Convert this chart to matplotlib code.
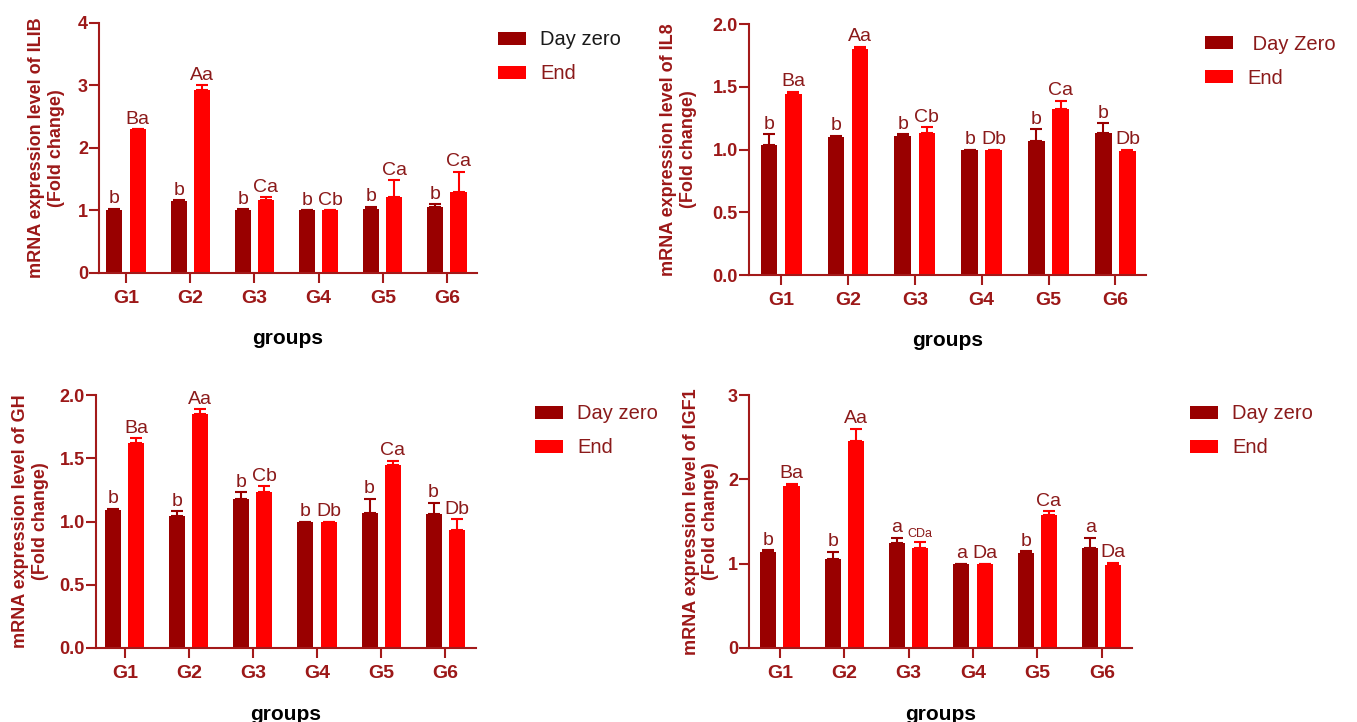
import matplotlib
matplotlib.use('agg')
import matplotlib.pyplot as plt
import numpy as np

# groups on the x axis
groups = ['G1', 'G2', 'G3', 'G4', 'G5', 'G6']

# IL1B
il1b_day0 = [1.00, 1.15, 1.00, 1.00, 1.03, 1.05]
il1b_day0_err = [0.03, 0.01, 0.02, 0.0, 0.03, 0.05]
il1b_end = [2.30, 2.93, 1.16, 1.00, 1.21, 1.29]
il1b_end_err = [0.0, 0.07, 0.05, 0.0, 0.27, 0.33]
il1b_day0_lbl = ['b', 'b', 'b', 'b', 'b', 'b']
il1b_end_lbl = ['Ba', 'Aa', 'Ca', 'Cb', 'Ca', 'Ca']

# IL8
il8_day0 = [1.04, 1.10, 1.11, 1.00, 1.07, 1.13]
il8_day0_err = [0.08, 0.01, 0.01, 0.0, 0.09, 0.08]
il8_end = [1.44, 1.80, 1.13, 1.00, 1.32, 0.99]
il8_end_err = [0.02, 0.02, 0.05, 0.0, 0.07, 0.01]
il8_day0_lbl = ['b', 'b', 'b', 'b', 'b', 'b']
il8_end_lbl = ['Ba', 'Aa', 'Cb', 'Db', 'Ca', 'Db']

# GH
gh_day0 = [1.09, 1.04, 1.18, 1.00, 1.07, 1.06]
gh_day0_err = [0.01, 0.04, 0.05, 0.0, 0.11, 0.09]
gh_end = [1.62, 1.85, 1.23, 1.00, 1.45, 0.93]
gh_end_err = [0.04, 0.04, 0.05, 0.0, 0.03, 0.09]
gh_day0_lbl = ['b', 'b', 'b', 'b', 'b', 'b']
gh_end_lbl = ['Ba', 'Aa', 'Cb', 'Db', 'Ca', 'Db']

# IGF1
igf1_day0 = [1.14, 1.06, 1.24, 1.00, 1.13, 1.18]
igf1_day0_err = [0.02, 0.08, 0.07, 0.0, 0.02, 0.13]
igf1_end = [1.92, 2.46, 1.18, 1.00, 1.58, 0.99]
igf1_end_err = [0.03, 0.14, 0.08, 0.0, 0.04, 0.02]
igf1_day0_lbl = ['b', 'b', 'a', 'a', 'b', 'a']
igf1_end_lbl = ['Ba', 'Aa', 'CDa', 'Da', 'Ca', 'Da']

DARK = '#990000'
RED = '#ff0000'
TXT = '#9c1818'
SPINE = '#a31a1a'
ANN = '#8b1a1a'

plt.rcParams['font.family'] = ['Liberation Sans', 'DejaVu Sans']


def draw_panel(fig, rect, day0, day0_err, end, end_err, lab0, lab1,
               gene, yticks, ytlabels, xlim, names, leg_pos, ylab_x, leg_colors):
    ax = fig.add_axes(rect)
    x = np.arange(len(groups))
    w = 0.25
    off = 0.18
    ax.bar(x - off, day0, w, color=DARK, label=names[0], zorder=2)
    ax.bar(x + off, end, w, color=RED, label=names[1], zorder=2)
    zeros = np.zeros(len(groups))
    ax.errorbar(x - off, day0, yerr=[zeros, day0_err], fmt='none', ecolor=DARK,
                elinewidth=1.5, capsize=4, capthick=1.5, zorder=3)
    ax.errorbar(x + off, end, yerr=[zeros, end_err], fmt='none', ecolor=RED,
                elinewidth=1.5, capsize=4, capthick=1.5, zorder=3)

    for i in range(len(groups)):
        ax.annotate(lab0[i], (x[i] - off, day0[i] + day0_err[i]), xytext=(0, 1),
                    textcoords='offset points', ha='center', va='bottom',
                    fontsize=14, color=ANN)
        fs = 9 if len(lab1[i]) > 2 else 14
        ax.annotate(lab1[i], (x[i] + off, end[i] + end_err[i]), xytext=(0, 1),
                    textcoords='offset points', ha='center', va='bottom',
                    fontsize=fs, color=ANN)

    ax.set_xlim(*xlim)
    ax.set_ylim(yticks[0], yticks[-1])
    ax.set_yticks(yticks)
    ax.set_yticklabels(ytlabels)
    ax.set_xticks(x)
    ax.set_xticklabels(groups)
    for s in ['top', 'right']:
        ax.spines[s].set_visible(False)
    for s in ['left', 'bottom']:
        ax.spines[s].set_color(SPINE)
        ax.spines[s].set_linewidth(1.5)
    ax.tick_params(axis='x', length=7, width=1.5, color=SPINE, pad=5,
                   labelsize=14, labelcolor=TXT)
    ax.tick_params(axis='y', length=7, width=1.5, color=SPINE, pad=1,
                   labelsize=13, labelcolor=TXT)
    for t in ax.get_xticklabels() + ax.get_yticklabels():
        t.set_fontweight('bold')

    ax.set_ylabel('mRNA expression level of ' + gene + '\n(Fold change)',
                  fontsize=13, fontweight='bold', color=TXT, linespacing=1.2)
    ax.yaxis.set_label_coords(ylab_x, 0.5)
    ax.set_xlabel('groups', fontsize=15, fontweight='bold', color='black')
    ax.xaxis.set_label_coords(0.5, -0.225)

    ax.legend(loc='upper left', bbox_to_anchor=leg_pos, bbox_transform=fig.transFigure,
              frameon=False, fontsize=14.5, handlelength=1.4, handleheight=0.62,
              labelspacing=0.75, handletextpad=0.7, borderpad=0, borderaxespad=0,
              labelcolor=leg_colors)
    return ax


fig = plt.figure(figsize=(13.57, 7.22), dpi=100)

draw_panel(fig, [0.0730, 0.6219, 0.2786, 0.3463],
           il1b_day0, il1b_day0_err, il1b_end, il1b_end_err, il1b_day0_lbl, il1b_end_lbl,
           'ILIB', [0, 1, 2, 3, 4], ['0', '1', '2', '3', '4'], (-0.42, 5.47),
           ['Day zero', 'End'], (0.367, 0.958), -0.090, ['#1a1a1a', ANN])

draw_panel(fig, [0.5520, 0.6191, 0.2926, 0.3476],
           il8_day0, il8_day0_err, il8_end, il8_end_err, il8_day0_lbl, il8_end_lbl,
           'IL8', [0, 0.5, 1.0, 1.5, 2.0], ['0.0', '0.5', '1.0', '1.5', '2.0'], (-0.48, 5.46),
           [' Day Zero', 'End'], (0.888, 0.952), -0.131, [ANN, ANN])

draw_panel(fig, [0.0707, 0.1025, 0.2800, 0.3504],
           gh_day0, gh_day0_err, gh_end, gh_end_err, gh_day0_lbl, gh_end_lbl,
           'GH', [0, 0.5, 1.0, 1.5, 2.0], ['0.0', '0.5', '1.0', '1.5', '2.0'], (-0.45, 5.48),
           ['Day zero', 'End'], (0.394, 0.440), -0.124, [ANN, ANN])

draw_panel(fig, [0.5520, 0.1025, 0.2822, 0.3504],
           igf1_day0, igf1_day0_err, igf1_end, igf1_end_err, igf1_day0_lbl, igf1_end_lbl,
           'IGF1', [0, 1, 2, 3], ['0', '1', '2', '3'], (-0.48, 5.47),
           ['Day zero', 'End'], (0.877, 0.440), -0.078, [ANN, ANN])

fig.savefig('out.png', dpi=100)
